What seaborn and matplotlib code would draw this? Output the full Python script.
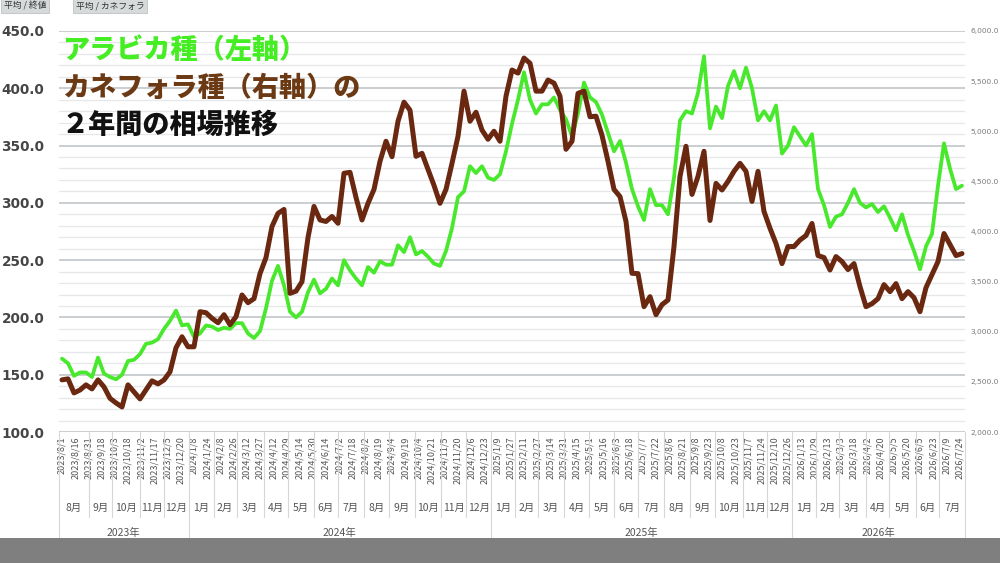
import numpy as np
import pandas as pd
import matplotlib
matplotlib.use('Agg')
import matplotlib.pyplot as plt
import seaborn as sns
from matplotlib.patches import Rectangle
from matplotlib.ticker import MultipleLocator, FuncFormatter

# weekly readings (every 5 trading days from 2023/8/1)
arabica = [164, 160, 149, 152, 152, 148, 165, 151, 148, 146,
           150, 162, 163, 168, 177, 178, 181, 190, 197, 206,
           193, 194, 183, 186, 193, 192, 189, 191, 190, 195,
           195, 186, 182, 188, 208, 232, 245, 228, 205, 200,
           205, 222, 233, 221, 225, 234, 228, 250, 241, 234,
           228, 244, 239, 249, 246, 246, 263, 257, 270, 255,
           258, 253, 247, 245, 258, 278, 305, 310, 332, 326,
           332, 322, 320, 325, 345, 369, 390, 414, 390, 378,
           386, 386, 392, 381, 373, 358, 378, 405, 392, 388,
           377, 361, 345, 354, 335, 312, 297, 285, 312, 298,
           298, 290, 322, 372, 380, 378, 396, 428, 365, 384,
           374, 402, 415, 400, 418, 400, 372, 380, 372, 385,
           343, 350, 366, 358, 350, 360, 312, 298, 279, 288,
           290, 300, 312, 300, 296, 299, 292, 297, 287, 276,
           290, 272, 258, 242, 262, 273, 315, 352, 330, 312,
           315]
robusta = [2520, 2530, 2390, 2419, 2470, 2430, 2520, 2450, 2336, 2290,
           2250, 2470, 2400, 2330, 2420, 2510, 2480, 2519, 2600, 2840,
           2950, 2850, 2850, 3200, 3190, 3134, 3090, 3170, 3070, 3150,
           3367, 3290, 3330, 3580, 3740, 4050, 4181, 4220, 3383, 3405,
           3500, 3940, 4250, 4115, 4100, 4150, 4082, 4581, 4590, 4340,
           4115, 4281, 4420, 4700, 4900, 4746, 5100, 5290, 5210, 4750,
           4780, 4620, 4460, 4281, 4420, 4680, 4950, 5400, 5100, 5190,
           5012, 4920, 5000, 4900, 5350, 5611, 5580, 5730, 5678, 5400,
           5400, 5511, 5480, 5350, 4820, 4900, 5378, 5400, 5145, 5150,
           4960, 4700, 4420, 4348, 4100, 3583, 3580, 3250, 3350, 3170,
           3270, 3317, 3850, 4550, 4850, 4370, 4550, 4800, 4110, 4480,
           4414, 4500, 4600, 4680, 4600, 4300, 4600, 4200, 4032, 3880,
           3680, 3850, 3850, 3915, 3960, 4080, 3760, 3740, 3616, 3750,
           3700, 3620, 3680, 3450, 3250, 3280, 3330, 3470, 3400, 3480,
           3330, 3400, 3340, 3200, 3440, 3570, 3700, 3980, 3870, 3760,
           3780]
tick_dates = ['2023/8/1', '2023/8/16', '2023/8/31', '2023/9/18', '2023/10/3', '2023/10/18',
              '2023/11/2', '2023/11/17', '2023/12/5', '2023/12/20', '2024/1/8', '2024/1/24',
              '2024/2/8', '2024/2/26', '2024/3/12', '2024/3/27', '2024/4/12', '2024/4/29',
              '2024/5/14', '2024/5/30', '2024/6/14', '2024/7/2', '2024/7/18', '2024/8/2',
              '2024/8/19', '2024/9/4', '2024/9/19', '2024/10/4', '2024/10/21', '2024/11/5',
              '2024/11/20', '2024/12/6', '2024/12/23', '2025/1/9', '2025/1/27', '2025/2/11',
              '2025/2/27', '2025/3/14', '2025/3/31', '2025/4/15', '2025/5/1', '2025/5/16',
              '2025/6/3', '2025/6/18', '2025/7/7', '2025/7/22', '2025/8/6', '2025/8/21',
              '2025/9/8', '2025/9/23', '2025/10/8', '2025/10/23', '2025/11/7', '2025/11/24',
              '2025/12/10', '2025/12/26', '2026/1/13', '2026/1/29', '2026/2/13', '2026/3/3',
              '2026/3/18', '2026/4/2', '2026/4/20', '2026/5/5', '2026/5/20', '2026/6/5',
              '2026/6/23', '2026/7/9', '2026/7/24']
step = 5        # trading days between readings
tick_step = 11  # trading days between date labels

sns.set_theme(style='white')
plt.rcParams['font.family'] = ['Noto Sans CJK JP', 'DejaVu Sans']

df = pd.DataFrame({'day': np.arange(len(arabica)) * step,
                   'arabica': arabica, 'robusta': robusta})

fig = plt.figure(figsize=(10, 5.63), dpi=100)
ax = fig.add_axes([0.059, 1 - 432 / 563, 0.906, 401 / 563])
ax2 = ax.twinx()

sns.lineplot(data=df, x='day', y='arabica', ax=ax, color='#48e82c', lw=2.7)
sns.lineplot(data=df, x='day', y='robusta', ax=ax2, color='#6a2810', lw=3.6)

x0, x1 = -2.5, 752.5
ax.set_xlim(x0, x1)
ax.set_ylim(100, 450)
ax2.set_ylim(2000, 6000)

for a in (ax, ax2):
    for s in a.spines.values():
        s.set_visible(False)
    a.set_xlabel('')
    a.set_ylabel('')

# grid
ax.set_yticks(np.arange(100, 451, 50))
ax.yaxis.set_minor_locator(MultipleLocator(10))
ax.grid(axis='y', which='major', color='#c6cacd', lw=1.3)
ax.grid(axis='y', which='minor', color='#e5e7e9', lw=0.9)
ax.grid(axis='x', visible=False)
ax.set_axisbelow(True)
ax.yaxis.set_major_formatter(FuncFormatter(lambda v, p: f'{v:.1f}'))
ax.tick_params(axis='y', which='both', length=0, pad=10.5, labelsize=9.8,
               labelcolor='#454545')
for t in ax.get_yticklabels():
    t.set_fontweight('bold')
    t.set_family('DejaVu Sans')

ax2.set_yticks(np.arange(2000, 6001, 500))
ax2.yaxis.set_major_formatter(FuncFormatter(lambda v, p: f'{v:,.1f}'))
ax2.tick_params(axis='y', length=0, pad=4, labelsize=5.4, labelcolor='#7a7a7a')
for t in ax2.get_yticklabels():
    t.set_family('DejaVu Sans')
ax2.grid(False)

# date labels
td = pd.to_datetime(tick_dates, format='%Y/%m/%d')
tick_pos = np.arange(len(tick_dates)) * tick_step
ax.set_xticks(tick_pos)
ax.set_xticklabels(tick_dates, rotation=90, fontsize=6.5, color='#555555')
ax.tick_params(axis='x', length=0, pad=3)

# month / year rows
ords = np.array([d.toordinal() for d in td])
months = pd.date_range('2023-09-01', '2026-07-01', freq='MS')
mb = np.interp([m.toordinal() for m in months], ords, tick_pos) - 0.5
edges = np.concatenate([[x0], mb, [x1]])
month_names = ['8月'] + [f'{m.month}月' for m in months]
trans = ax.get_xaxis_transform()
sep = '#d3d7db'
for i, name in enumerate(month_names):
    ax.text((edges[i] + edges[i + 1]) / 2, -0.19, name, transform=trans,
            ha='center', va='center', fontsize=7.5, color='#555555')
for b in edges:
    ax.plot([b, b], [0, -0.212], transform=trans, clip_on=False, color=sep, lw=0.8)

years = ['2023年', '2024年', '2025年', '2026年']
year_starts = [m for m in months if m.month == 1]
yb = np.interp([m.toordinal() for m in year_starts], ords, tick_pos) - 0.5
yedges = np.concatenate([[x0], yb, [x1]])
for i, name in enumerate(years):
    ax.text((yedges[i] + yedges[i + 1]) / 2, -0.252, name, transform=trans,
            ha='center', va='center', fontsize=7.5, color='#555555')
for b in yedges:
    ax.plot([b, b], [-0.212, -0.265], transform=trans, clip_on=False, color=sep, lw=0.8)

# title overlay
fig.text(0.062, 1 - 50 / 563, 'アラビカ種（左軸）', fontsize=19.5, fontweight='black',
         color='#44ee22', va='center', ha='left')
fig.text(0.062, 1 - 88 / 563, 'カネフォラ種（右軸）の', fontsize=19.5, fontweight='black',
         color='#6b3a14', va='center', ha='left')
fig.text(0.062, 1 - 125 / 563, '２年間の相場推移', fontsize=19.5, fontweight='black',
         color='#111111', va='center', ha='left')

# small field buttons top-left
box = dict(boxstyle='square,pad=0.3', facecolor='#d6dada', edgecolor='#b5b9b9', lw=0.5)
fig.text(0.004, 1 - 6 / 563, '平均 / 終値', fontsize=6.3, color='#333333', va='center', bbox=box)
fig.text(0.076, 1 - 6 / 563, '平均 / カネフォラ', fontsize=6.3, color='#333333', va='center', bbox=box)

# grey band at the bottom
fig.add_artist(Rectangle((0, 0), 1, 25 / 563, transform=fig.transFigure,
                         facecolor='#7f7f7f', edgecolor='none'))

fig.savefig('out.png', dpi=100)
